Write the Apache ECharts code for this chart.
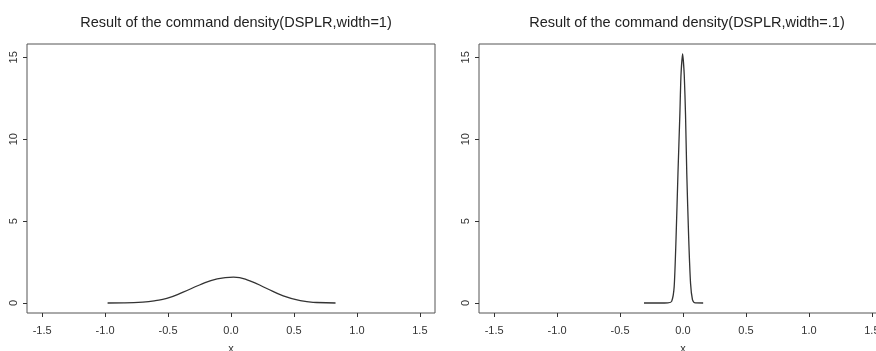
<!DOCTYPE html>
<html>
<head>
<meta charset="utf-8">
<script src="https://cdn.jsdelivr.net/npm/echarts@6/dist/echarts.min.js"></script>
<style>
  html, body { margin: 0; padding: 0; background: #fff; }
  #chart { width: 876px; height: 351px; }
</style>
</head>
<body>
<div id="chart"></div>
<script>
// values
const titles = ['Result of the command density(DSPLR,width=1)', 'Result of the command density(DSPLR,width=.1)'];
const xTicks = [-1.5, -1.0, -0.5, 0.0, 0.5, 1.0, 1.5];
const yTicks = [0, 5, 10, 15];

const wideX = [-0.98, -0.85, -0.70, -0.60, -0.51, -0.38, -0.25, -0.11, 0.02, 0.15, 0.28, 0.41, 0.55, 0.68, 0.83];
const wideY = [0, 0.005, 0.05, 0.14, 0.28, 0.66, 1.10, 1.47, 1.58, 1.35, 0.90, 0.45, 0.14, 0.03, 0];

const narrowX = [-0.31, -0.20, -0.12, -0.09, -0.07, -0.055, -0.04, -0.025, -0.016, -0.003, 0.01, 0.02, 0.03, 0.045, 0.06, 0.075, 0.09, 0.16];
const narrowY = [0, 0, 0.01, 0.1, 1.0, 4.0, 7.9, 11.5, 13.9, 15.2, 13.9, 11.5, 7.9, 4.0, 1.2, 0.2, 0.02, 0];

const font = 'Liberation Sans, Arial, sans-serif';
const ink = '#333';

function pairs(xs, ys) {
  return xs.map((x, i) => [x, ys[i]]);
}

function makeX(idx) {
  return {
    type: 'value',
    gridIndex: idx,
    min: -1.62,
    max: 1.62,
    name: 'x',
    nameLocation: 'middle',
    nameGap: 30,
    nameTextStyle: { fontFamily: font, fontSize: 11, color: ink },
    axisLine: { show: false, onZero: false },
    axisTick: { show: true, inside: false, length: 4, customValues: xTicks, lineStyle: { color: ink } },
    axisLabel: {
      customValues: xTicks,
      formatter: (v) => v.toFixed(1),
      fontFamily: font, fontSize: 11, color: ink, margin: 12,
    },
    splitLine: { show: false },
  };
}

function makeY(idx) {
  return {
    type: 'value',
    gridIndex: idx,
    min: -0.61,
    max: 15.81,
    axisLine: { show: false, onZero: false },
    axisTick: { show: true, inside: false, length: 4, customValues: yTicks, lineStyle: { color: ink } },
    axisLabel: {
      customValues: yTicks,
      rotate: 90,
      fontFamily: font, fontSize: 11, color: ink, margin: 8,
    },
    splitLine: { show: false },
  };
}

const chart = echarts.init(document.getElementById('chart'), null, { renderer: 'canvas' });
chart.setOption({
  animation: false,
  backgroundColor: '#fff',
  title: [
    { text: titles[0], left: 231, top: 10, textAlign: 'center',
      textStyle: { fontFamily: font, fontSize: 14.5, fontWeight: 'normal', color: '#222' } },
    { text: titles[1], left: 682, top: 10, textAlign: 'center',
      textStyle: { fontFamily: font, fontSize: 14.5, fontWeight: 'normal', color: '#222' } },
  ],
  grid: [
    { left: 27, top: 44, width: 408, height: 269, outerBoundsMode: 'none', containLabel: false,
      show: true, borderColor: '#555', borderWidth: 1, backgroundColor: 'transparent' },
    { left: 479, top: 44, width: 408, height: 269, outerBoundsMode: 'none', containLabel: false,
      show: true, borderColor: '#555', borderWidth: 1, backgroundColor: 'transparent' },
  ],
  xAxis: [makeX(0), makeX(1)],
  yAxis: [makeY(0), makeY(1)],
  series: [
    {
      type: 'line', xAxisIndex: 0, yAxisIndex: 0,
      data: pairs(wideX, wideY),
      smooth: 0.5, showSymbol: false,
      lineStyle: { color: ink, width: 1.3 },
    },
    {
      type: 'line', xAxisIndex: 1, yAxisIndex: 1,
      data: pairs(narrowX, narrowY),
      smooth: 0.2, showSymbol: false,
      lineStyle: { color: ink, width: 1.3 },
    },
  ],
});
</script>
</body>
</html>
